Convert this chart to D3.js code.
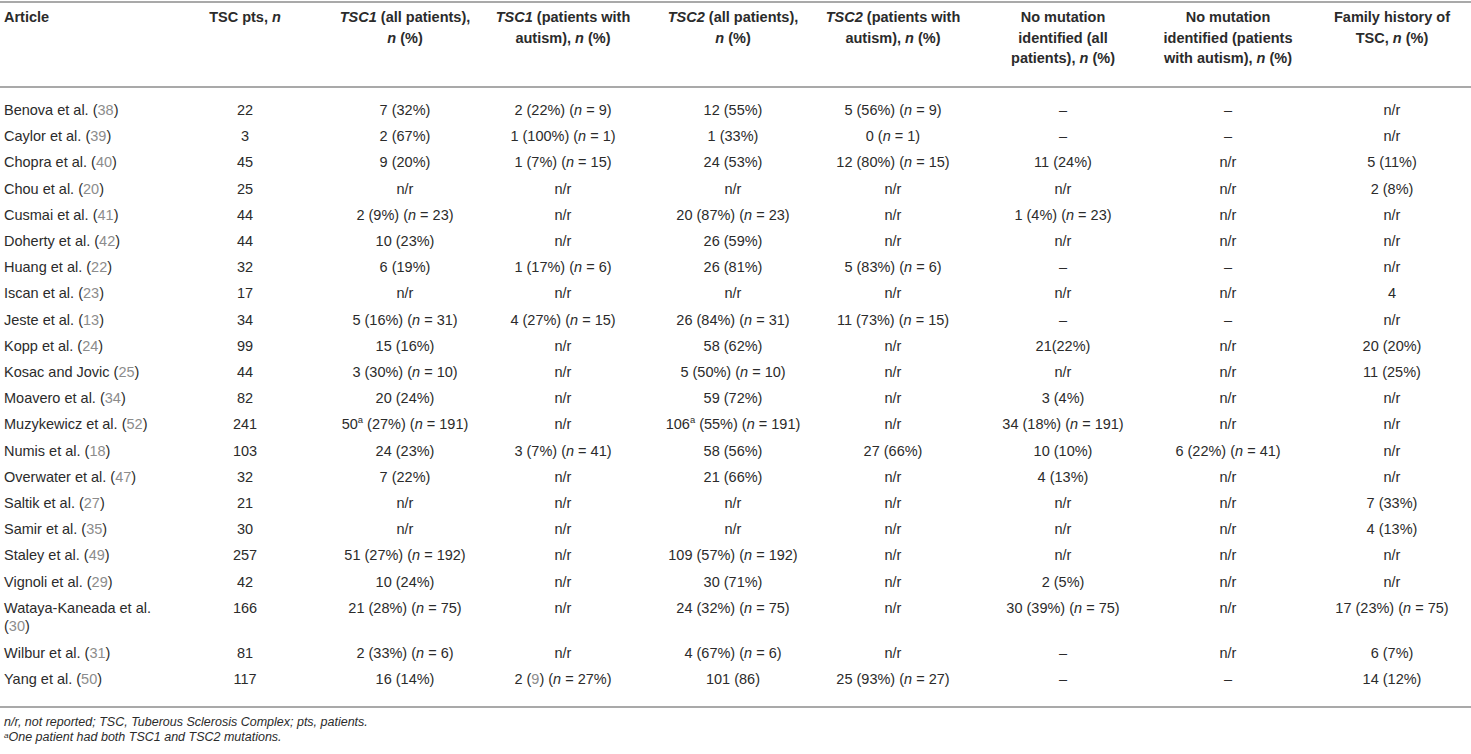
<!DOCTYPE html>
<html>
<head>
<meta charset="utf-8">
<script src="https://cdn.jsdelivr.net/npm/d3@7/dist/d3.min.js"></script>
<style>
  html, body { margin: 0; padding: 0; background: #fff; }
  svg text { font-family: "Liberation Sans", Arial, sans-serif; }
</style>
</head>
<body>
<svg id="chart" width="1471" height="754"></svg>
<script>
// column headers, one string per line, *...* = italic
const headers = [
  ["Article"],
  ["TSC pts, *n*"],
  ["*TSC1* (all patients),", "*n* (%)"],
  ["*TSC1* (patients with", "autism), *n* (%)"],
  ["*TSC2* (all patients),", "*n* (%)"],
  ["*TSC2* (patients with", "autism), *n* (%)"],
  ["No mutation", "identified (all", "patients), *n* (%)"],
  ["No mutation", "identified (patients", "with autism), *n* (%)"],
  ["Family history of", "TSC, *n* (%)"]
];

const articles = [
  "Benova et al.", "Caylor et al.", "Chopra et al.", "Chou et al.", "Cusmai et al.",
  "Doherty et al.", "Huang et al.", "Iscan et al.", "Jeste et al.", "Kopp et al.",
  "Kosac and Jovic", "Moavero et al.", "Muzykewicz et al.", "Numis et al.",
  "Overwater et al.", "Saltik et al.", "Samir et al.", "Staley et al.",
  "Vignoli et al.", "Wataya-Kaneada et al.", "Wilbur et al.", "Yang et al."
];
const refs = [38, 39, 40, 20, 41, 42, 22, 23, 13, 24, 25, 34, 52, 18, 47, 27, 35, 49, 29, 30, 31, 50];

const tscPts = [22, 3, 45, 25, 44, 44, 32, 17, 34, 99, 44, 82, 241, 103, 32, 21, 30, 257, 42, 166, 81, 117];

const tsc1All = [
  "7 (32%)", "2 (67%)", "9 (20%)", "n/r", "2 (9%) (n = 23)", "10 (23%)", "6 (19%)", "n/r",
  "5 (16%) (n = 31)", "15 (16%)", "3 (30%) (n = 10)", "20 (24%)", "50^a (27%) (n = 191)",
  "24 (23%)", "7 (22%)", "n/r", "n/r", "51 (27%) (n = 192)", "10 (24%)",
  "21 (28%) (n = 75)", "2 (33%) (n = 6)", "16 (14%)"
];
const tsc1Aut = [
  "2 (22%) (n = 9)", "1 (100%) (n = 1)", "1 (7%) (n = 15)", "n/r", "n/r", "n/r",
  "1 (17%) (n = 6)", "n/r", "4 (27%) (n = 15)", "n/r", "n/r", "n/r", "n/r",
  "3 (7%) (n = 41)", "n/r", "n/r", "n/r", "n/r", "n/r", "n/r", "n/r", "2 ({9}) (n = 27%)"
];
const tsc2All = [
  "12 (55%)", "1 (33%)", "24 (53%)", "n/r", "20 (87%) (n = 23)", "26 (59%)", "26 (81%)", "n/r",
  "26 (84%) (n = 31)", "58 (62%)", "5 (50%) (n = 10)", "59 (72%)", "106^a (55%) (n = 191)",
  "58 (56%)", "21 (66%)", "n/r", "n/r", "109 (57%) (n = 192)", "30 (71%)",
  "24 (32%) (n = 75)", "4 (67%) (n = 6)", "101 (86)"
];
const tsc2Aut = [
  "5 (56%) (n = 9)", "0 (n = 1)", "12 (80%) (n = 15)", "n/r", "n/r", "n/r", "5 (83%) (n = 6)",
  "n/r", "11 (73%) (n = 15)", "n/r", "n/r", "n/r", "n/r", "27 (66%)", "n/r", "n/r", "n/r",
  "n/r", "n/r", "n/r", "n/r", "25 (93%) (n = 27)"
];
const noMutAll = [
  "–", "–", "11 (24%)", "n/r", "1 (4%) (n = 23)", "n/r", "–", "n/r", "–", "21(22%)", "n/r",
  "3 (4%)", "34 (18%) (n = 191)", "10 (10%)", "4 (13%)", "n/r", "n/r", "n/r", "2 (5%)",
  "30 (39%) (n = 75)", "–", "–"
];
const noMutAut = [
  "–", "–", "n/r", "n/r", "n/r", "n/r", "–", "n/r", "–", "n/r", "n/r", "n/r", "n/r",
  "6 (22%) (n = 41)", "n/r", "n/r", "n/r", "n/r", "n/r", "n/r", "n/r", "–"
];
const familyHist = [
  "n/r", "n/r", "5 (11%)", "2 (8%)", "n/r", "n/r", "n/r", "4", "n/r", "20 (20%)", "11 (25%)",
  "n/r", "n/r", "n/r", "n/r", "7 (33%)", "4 (13%)", "n/r", "n/r", "17 (23%) (n = 75)",
  "6 (7%)", "14 (12%)"
];

const footnotes = [
  "n/r, not reported; TSC, Tuberous Sclerosis Complex; pts, patients.",
  "^aOne patient had both TSC1 and TSC2 mutations."
];

// layout
const width = 1471, height = 754;
const textCol = "#2b2b2b", refCol = "#8c8c8c", ruleCol = "#a9a9a9";
const fontSize = 14.5;
const colCenters = [4, 245, 405, 563, 733, 893, 1063, 1228, 1392];
const xCol = d3.scaleOrdinal().domain(d3.range(headers.length)).range(colCenters);
const yHead = d3.scaleLinear().domain([0, 1]).range([17, 37.5]);
const yRow = d3.scaleLinear().domain([0, 1]).range([110, 136.2]);
const lineH = 18.5;

const svg = d3.select("#chart");

// turn "(n = 9)", "50^a", "{9}" into styled pieces
function pieces(str) {
  return str.split(/(\^a|\{[^}]*\}|\bn(?= =)|\*[^*]+\*)/).filter(s => s !== "").map(s => {
    if (s === "^a") return { t: "a", sup: true };
    if (s[0] === "{") return { t: s.slice(1, -1), ref: true };
    if (s[0] === "*") return { t: s.slice(1, -1), it: true };
    if (s === "n") return { t: "n", it: true };
    return { t: s };
  });
}

function addText(sel, str, x, y, anchor, opts = {}) {
  const size = opts.size || fontSize;
  const t = sel.append("text")
    .attr("x", x).attr("y", y).attr("dy", "0.35em")
    .attr("text-anchor", anchor)
    .attr("font-size", size)
    .attr("font-weight", opts.bold ? "bold" : null)
    .attr("font-style", opts.italic ? "italic" : null)
    .style("fill", textCol);
  const shift = opts.supShift != null ? opts.supShift : Math.round(size * 0.4);
  let raised = false;
  pieces(str).forEach(p => {
    const ts = t.append("tspan").text(p.t);
    if (p.it) ts.attr("font-style", "italic");
    if (p.ref) ts.style("fill", refCol);
    if (p.sup) {
      ts.attr("font-size", size * 0.65).attr("dy", -shift);
      raised = true;
    } else if (raised) {
      ts.attr("dy", shift);
      raised = false;
    }
  });
  return t;
}

// rules
const rules = [2, 87, 707];
svg.selectAll("line.rule").data(rules).enter().append("line")
  .attr("class", "rule")
  .attr("x1", 0).attr("x2", width)
  .attr("y1", d => d).attr("y2", d => d)
  .style("stroke", ruleCol).style("stroke-width", 2);

// header
const gHead = svg.append("g");
headers.forEach((lines, c) => {
  lines.forEach((ln, k) => {
    addText(gHead, ln, xCol(c), yHead(k), c === 0 ? "start" : "middle", { bold: true });
  });
});

// body
const columns = [tscPts, tsc1All, tsc1Aut, tsc2All, tsc2Aut, noMutAll, noMutAut, familyHist];
const gBody = svg.append("g");
let extra = 0;
articles.forEach((name, i) => {
  const y = yRow(i) + extra;
  // article cell; the long name wraps its reference onto a second line
  if (name.length > 18) {
    addText(gBody, name, xCol(0), y, "start");
    addText(gBody, "({" + refs[i] + "})", xCol(0), y + lineH, "start");
  } else {
    addText(gBody, name + " ({" + refs[i] + "})", xCol(0), y, "start");
  }
  columns.forEach((col, c) => {
    addText(gBody, String(col[i]), xCol(c + 1), y, "middle");
  });
  if (name.length > 18) extra += lineH;
});

// footnotes
footnotes.forEach((f, k) => {
  addText(svg, f, 4, 722 + k * 19, "start", { italic: true, size: 12.5, supShift: 3 });
});
</script>
</body>
</html>
